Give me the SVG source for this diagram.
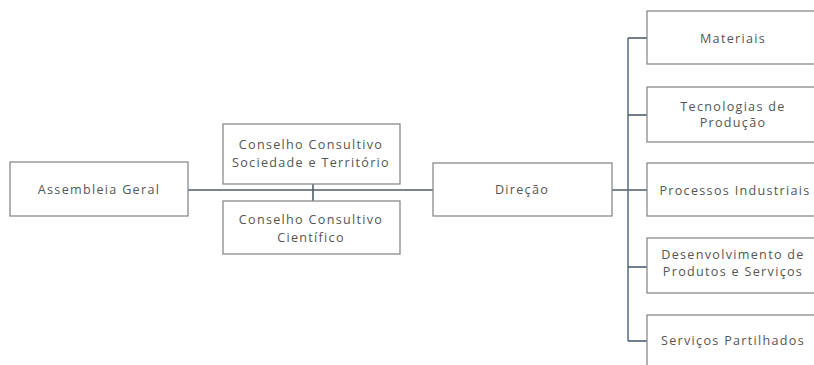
<svg xmlns="http://www.w3.org/2000/svg" width="814" height="365" viewBox="0 0 814 365">
<style>
.box{fill:#fff;stroke:#8a8a8a;stroke-width:1.3}
.t{font-family:"Open Sans","Liberation Sans",sans-serif;font-size:12.6px;fill:#555;text-anchor:middle;letter-spacing:1.3px}
.ln{stroke:#4f5d6b;stroke-width:1.6;fill:none}
.bus{stroke:#5a7390;stroke-width:1.6;fill:none}
</style>
<rect width="814" height="365" fill="#fff"/>
<g id="connectors">
<line class="ln" x1="188" y1="190" x2="433" y2="190"/>
<line class="ln" x1="313" y1="184" x2="313" y2="201"/>
<line class="ln" x1="612" y1="190" x2="647" y2="190"/>
<line class="bus" x1="628" y1="38" x2="628" y2="341"/>
<line class="ln" x1="628" y1="38" x2="647" y2="38"/>
<line class="ln" x1="628" y1="115" x2="647" y2="115"/>
<line class="ln" x1="628" y1="267" x2="647" y2="267"/>
<line class="ln" x1="628" y1="341" x2="647" y2="341"/>
</g>
<g id="assembleia">
<rect class="box" x="10" y="162" width="178" height="54"/>
<text class="t" x="99" y="194">Assembleia Geral</text>
</g>
<g id="conselho-sociedade">
<rect class="box" x="223" y="124" width="177" height="60"/>
<text class="t" x="311" y="149">Conselho Consultivo</text>
<text class="t" x="311" y="167">Sociedade e Território</text>
</g>
<g id="conselho-cientifico">
<rect class="box" x="223" y="201" width="177" height="53"/>
<text class="t" x="311" y="224">Conselho Consultivo</text>
<text class="t" x="311" y="242">Científico</text>
</g>
<g id="direcao">
<rect class="box" x="433" y="163" width="179" height="53"/>
<text class="t" x="522" y="194">Direção</text>
</g>
<g id="materiais">
<rect class="box" x="647" y="11" width="172" height="53"/>
<text class="t" x="733" y="43">Materiais</text>
</g>
<g id="tecnologias">
<rect class="box" x="647" y="87" width="172" height="55"/>
<text class="t" x="733" y="111">Tecnologias de</text>
<text class="t" x="733" y="127">Produção</text>
</g>
<g id="processos">
<rect class="box" x="647" y="163" width="172" height="53"/>
<text class="t" x="735" y="195">Processos Industriais</text>
</g>
<g id="desenvolvimento">
<rect class="box" x="647" y="238" width="172" height="55"/>
<text class="t" x="733" y="259">Desenvolvimento de</text>
<text class="t" x="733" y="276">Produtos e Serviços</text>
</g>
<g id="servicos">
<rect class="box" x="647" y="315" width="172" height="60"/>
<text class="t" x="733" y="345">Serviços Partilhados</text>
</g>
</svg>
